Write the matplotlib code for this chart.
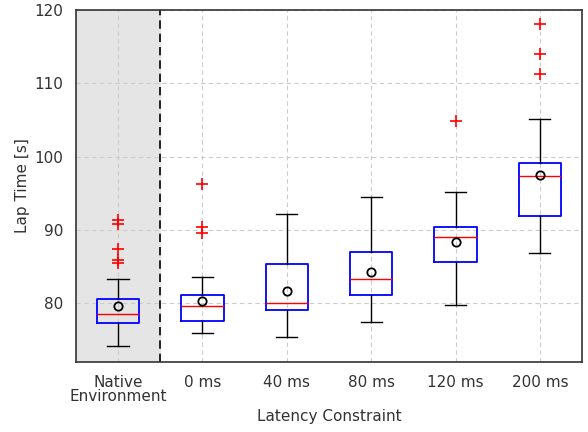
import matplotlib
matplotlib.use("Agg")
import matplotlib.pyplot as plt

categories = ["Native\nEnvironment", "0 ms", "40 ms", "80 ms", "120 ms", "200 ms"]
medians = [78.5, 79.7, 80.1, 83.3, 89.0, 97.3]
q1 = [77.3, 77.55, 79.1, 81.2, 85.7, 91.95]
q3 = [80.55, 81.1, 85.3, 87.0, 90.4, 99.2]
whislo = [74.2, 75.9, 75.45, 77.45, 79.8, 86.9]
whishi = [83.25, 83.6, 92.2, 94.55, 95.15, 105.15]
means = [79.65, 80.35, 81.65, 84.25, 88.35, 97.55]
fliers = [
    [91.3, 90.8, 87.35, 85.9, 85.55],
    [96.3, 90.45, 89.55],
    [],
    [],
    [104.9],
    [118.1, 114.0, 111.2],
]

stats = []
for i, lab in enumerate(categories):
    stats.append(dict(label=lab, med=medians[i], q1=q1[i], q3=q3[i],
                      whislo=whislo[i], whishi=whishi[i], mean=means[i],
                      fliers=fliers[i]))

fig = plt.figure(figsize=(5.88, 4.32), dpi=100)
ax = fig.add_axes([0.129, 0.162, 0.861, 0.815])

ax.axvspan(0.5, 1.5, color="#e5e5e5", zorder=0)
ax.axvline(1.5, color="black", linestyle=(0, (5, 3)), linewidth=1.2, zorder=1)

ax.bxp(stats, positions=range(1, len(categories) + 1), widths=0.5,
       showmeans=True, patch_artist=False,
       boxprops=dict(color="blue", linewidth=1.3),
       medianprops=dict(color="red", linewidth=1.0),
       whiskerprops=dict(color="black", linewidth=1.0),
       capprops=dict(color="black", linewidth=1.0),
       flierprops=dict(marker="+", markeredgecolor="red", markersize=8, markeredgewidth=1.2),
       meanprops=dict(marker="o", markerfacecolor="none", markeredgecolor="black",
                      markersize=6, markeredgewidth=1.3))

ax.set_xlim(0.5, 6.5)
ax.set_ylim(72, 120)
ax.set_yticks([80, 90, 100, 110, 120])
ax.grid(True, linestyle=(0, (4, 3)), color="#cccccc", linewidth=0.8)
ax.set_axisbelow(True)
ax.tick_params(length=0, labelsize=11, colors="#333333")
ax.tick_params(axis="x", pad=9)
ax.tick_params(axis="y", pad=9)
for t in ax.get_xticklabels():
    t.set_linespacing(0.95)
for s in ax.spines.values():
    s.set_color("#333333")
    s.set_linewidth(1.2)
ax.set_xlabel("Latency Constraint", fontsize=11, color="#333333", labelpad=4)
ax.set_ylabel("Lap Time [s]", fontsize=11, color="#333333", labelpad=3)

fig.savefig("out.png", dpi=100)
